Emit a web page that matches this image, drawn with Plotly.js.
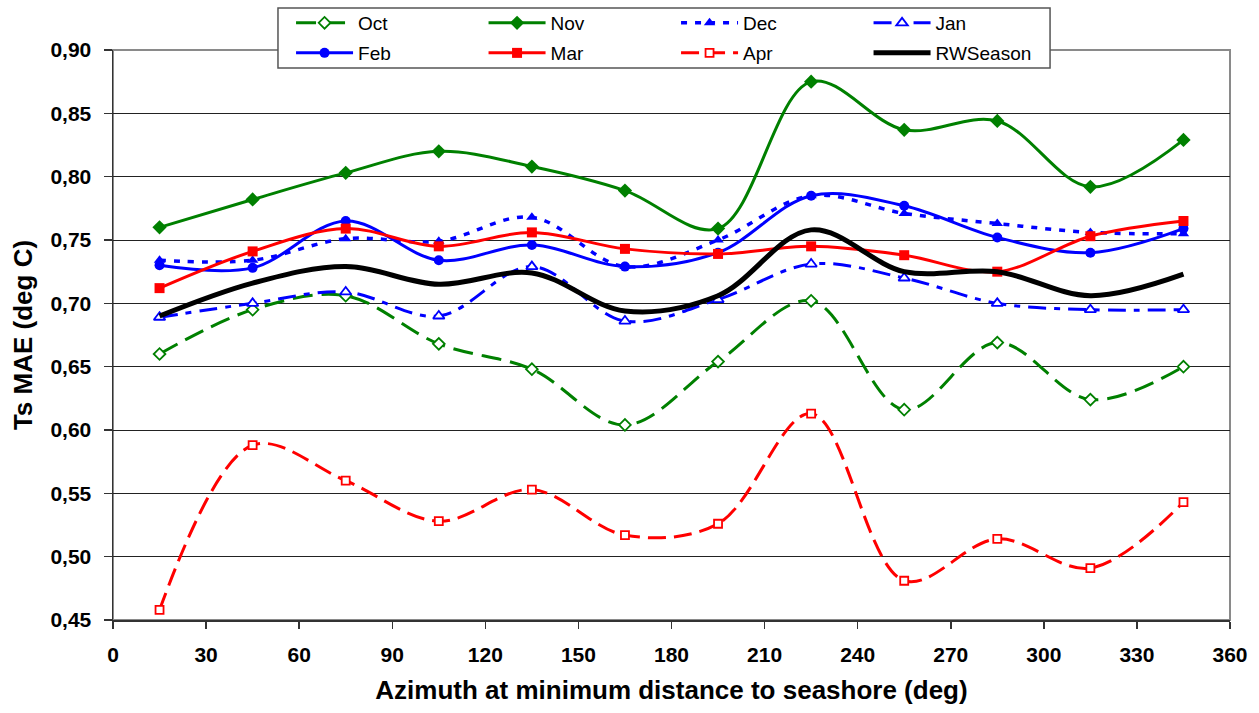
<!DOCTYPE html>
<html>
<head>
<meta charset="utf-8">
<script src="https://cdn.plot.ly/plotly-3.0.1.min.js"></script>
<style>
html,body{margin:0;padding:0;background:#fff;}
#chart{width:1259px;height:713px;}
</style>
</head>
<body>
<div id="chart"></div>
<script>
// Azimuth categories (deg)
const azimuth = [15, 45, 75, 105, 135, 165, 195, 225, 255, 285, 315, 345];

// Ts MAE (deg C) per month
const octVals = [0.660, 0.695, 0.706, 0.668, 0.648, 0.604, 0.654, 0.702, 0.616, 0.669, 0.624, 0.650];
const novVals = [0.760, 0.782, 0.803, 0.820, 0.808, 0.789, 0.759, 0.875, 0.837, 0.844, 0.792, 0.829];
const decVals = [0.734, 0.734, 0.751, 0.749, 0.768, 0.729, 0.750, 0.785, 0.771, 0.763, 0.756, 0.755];
const janVals = [0.689, 0.700, 0.709, 0.690, 0.729, 0.686, 0.703, 0.731, 0.720, 0.700, 0.695, 0.695];
const febVals = [0.730, 0.728, 0.765, 0.734, 0.746, 0.729, 0.740, 0.785, 0.777, 0.752, 0.740, 0.759];
const marVals = [0.712, 0.741, 0.759, 0.745, 0.756, 0.743, 0.739, 0.745, 0.738, 0.725, 0.753, 0.765];
const aprVals = [0.458, 0.588, 0.560, 0.528, 0.553, 0.517, 0.526, 0.613, 0.481, 0.514, 0.491, 0.543];
const rwVals  = [0.690, 0.716, 0.729, 0.715, 0.724, 0.694, 0.706, 0.758, 0.725, 0.725, 0.706, 0.723];

const seriesNames = ['Oct', 'Nov', 'Dec', 'Jan', 'Feb', 'Mar', 'Apr', 'RWSeason'];

const GREEN = '#008000', BLUE = '#0000FF', RED = '#FF0000', BLACK = '#000000';

// hollow: white-filled marker with coloured outline
function tr(name, y, color, dash, width, symbol, msize, hollow, legend) {
  const t = {
    type: 'scatter',
    x: azimuth, y: y, name: name,
    mode: symbol ? 'lines+markers' : 'lines',
    line: {color: color, width: width, dash: dash, shape: 'spline', smoothing: 1},
    legend: legend
  };
  if (symbol) {
    t.marker = {symbol: symbol, size: msize, color: hollow ? '#ffffff' : color,
                line: {color: color, width: hollow ? 1.8 : 0}};
  }
  return t;
}

const data = [
  tr(seriesNames[0], octVals, GREEN, '20px,9px', 3, 'diamond', 9, true, 'legend'),
  tr(seriesNames[1], novVals, GREEN, 'solid', 3, 'diamond', 11, false, 'legend'),
  tr(seriesNames[2], decVals, BLUE, '6px,8px', 3.5, 'triangle-up', 10, false, 'legend'),
  tr(seriesNames[3], janVals, BLUE, '18px,8px,6px,8px', 3, 'triangle-up', 10, true, 'legend'),
  tr(seriesNames[4], febVals, BLUE, 'solid', 3, 'circle', 10, false, 'legend2'),
  tr(seriesNames[5], marVals, RED, 'solid', 3, 'square', 10, false, 'legend2'),
  tr(seriesNames[6], aprVals, RED, '18px,8px', 3, 'square', 8, true, 'legend2'),
  tr(seriesNames[7], rwVals, BLACK, 'solid', 5, null, 0, false, 'legend2')
];

const fontFam = '"Liberation Sans", Arial, sans-serif';
const legendCommon = {
  orientation: 'h', xanchor: 'left', yanchor: 'middle',
  x: 0.1594, entrywidth: 120.5, itemwidth: 57,
  bgcolor: 'rgba(0,0,0,0)', borderwidth: 0,
  font: {family: fontFam, size: 19, color: '#000'},
  traceorder: 'normal'
};

const layout = {
  width: 1259, height: 713,
  margin: {l: 113, r: 29, t: 50, b: 93, pad: 0, autoexpand: false},
  paper_bgcolor: '#fff', plot_bgcolor: '#fff',
  separators: ',.',
  font: {family: fontFam, color: '#000'},
  showlegend: true,
  legend: Object.assign({}, legendCommon, {y: 1.0474}),
  legend2: Object.assign({}, legendCommon, {y: 0.9947}),
  xaxis: {
    range: [0, 360], dtick: 30, tick0: 0,
    showgrid: false, zeroline: false, automargin: false,
    showline: true, linecolor: '#333', linewidth: 1.5,
    ticks: 'outside', ticklen: 7, tickcolor: '#333', tickwidth: 1.5,
    tickfont: {family: fontFam, size: 21, weight: 'bold', color: '#000'},
    ticklabelstandoff: 8,
    title: {text: 'Azimuth at minimum distance to seashore (deg)', standoff: 16,
            font: {family: fontFam, size: 26, weight: 'bold', color: '#000'}}
  },
  yaxis: {
    range: [0.45, 0.90], dtick: 0.05, tick0: 0.45, tickformat: '.2f',
    showgrid: true, gridcolor: '#222', gridwidth: 1,
    zeroline: false, automargin: false,
    showline: true, linecolor: '#333', linewidth: 1.5,
    ticks: 'outside', ticklen: 8, tickcolor: '#333', tickwidth: 1.5,
    tickfont: {family: fontFam, size: 21, weight: 'bold', color: '#000'},
    ticklabelstandoff: 8,
    title: {text: 'Ts MAE (deg C)', standoff: 10,
            font: {family: fontFam, size: 26, weight: 'bold', color: '#000'}}
  },
  shapes: [
    {type: 'rect', xref: 'paper', yref: 'paper', x0: 0, x1: 1, y0: 0, y1: 1,
     line: {color: '#8a8a8a', width: 2}, layer: 'below'},
    {type: 'rect', xref: 'paper', yref: 'paper', x0: 0.1477, x1: 0.8389, y0: 0.9684, y1: 1.0737,
     line: {color: '#555', width: 1.5}, fillcolor: '#fff', layer: 'above'}
  ]
};

Plotly.newPlot('chart', data, layout, {staticPlot: true, displayModeBar: false});
</script>
</body>
</html>
